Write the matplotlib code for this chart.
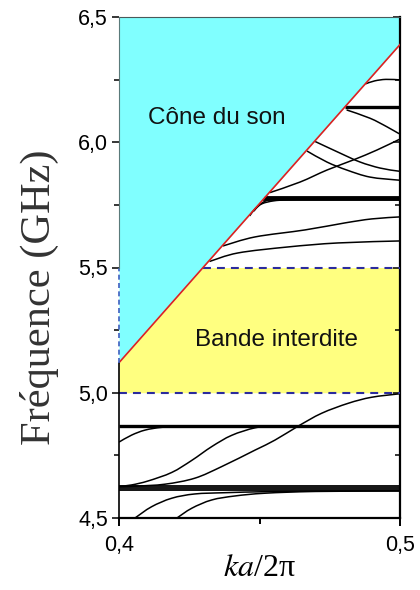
import numpy as np
import matplotlib
matplotlib.use('Agg')
import matplotlib.pyplot as plt
from matplotlib.path import Path
from matplotlib.patches import PathPatch
from matplotlib.ticker import MultipleLocator, FuncFormatter

plt.rcParams['mathtext.fontset'] = 'stix'

# sound line (edge of the sound cone) read at both ends of the window
cone_k = [0.4, 0.5]
cone_f = [5.12, 6.39]

# band gap limits (GHz)
gap_lo = 5.0
gap_hi = 5.5

# flat, heavy branches (GHz); they start at the sound line or at k=0.4
flat_levels = [4.613, 4.620, 4.628, 4.867, 5.770, 5.776, 5.783, 6.140]
heavy = [4.867, 5.776, 6.140]

# dispersive branches, read point by point
e1_k = [0.4, 0.4045, 0.4093, 0.4152, 0.4223, 0.430]
e1_f = [4.803, 4.831, 4.851, 4.862, 4.866, 4.867]
e2_k = [0.4, 0.4045, 0.4104, 0.4188, 0.4259, 0.4330, 0.4401, 0.4484, 0.4550]
e2_f = [4.626, 4.632, 4.648, 4.682, 4.730, 4.785, 4.830, 4.860, 4.867]
e3_k = [0.4, 0.4057, 0.4164, 0.4270, 0.4365, 0.4484, 0.4555, 0.4638, 0.4721, 0.4816, 0.4899, 0.5]
e3_f = [4.625, 4.627, 4.635, 4.659, 4.705, 4.771, 4.811, 4.867, 4.918, 4.958, 4.982, 4.996]
f1_k = [0.4057, 0.4116, 0.4188, 0.4270, 0.4377, 0.4520, 0.470, 0.5]
f1_f = [4.500, 4.545, 4.579, 4.596, 4.601, 4.605, 4.607, 4.608]
f2_k = [0.4205, 0.4259, 0.4330, 0.4413, 0.4520, 0.470, 0.5]
f2_f = [4.499, 4.539, 4.572, 4.588, 4.599, 4.606, 4.608]

d2_k = [0.4322, 0.4423, 0.4601, 0.4779, 0.5]
d2_f = [5.524, 5.558, 5.582, 5.598, 5.606]
d1_k = [0.4370, 0.4484, 0.4662, 0.4804, 0.4900, 0.5]
d1_f = [5.586, 5.622, 5.650, 5.678, 5.694, 5.702]
fa_k = [0.4465, 0.4485, 0.451, 0.455, 0.460, 0.470, 0.5]
fa_f = [5.706, 5.735, 5.755, 5.766, 5.770, 5.771, 5.771]
fb_k = [0.4480, 0.4500, 0.4525, 0.456, 0.462, 0.5]
fb_f = [5.725, 5.750, 5.767, 5.775, 5.778, 5.778]
c4_k = [0.4537, 0.4644, 0.4740, 0.4833, 0.4918, 0.4993, 0.5]
c4_f = [5.799, 5.841, 5.889, 5.929, 5.969, 6.009, 6.011]
c3_k = [0.4669, 0.4740, 0.4811, 0.4893, 0.4993, 0.5]
c3_f = [5.965, 5.921, 5.889, 5.861, 5.849, 5.849]
c2_k = [0.4698, 0.4786, 0.4858, 0.4929, 0.4993, 0.5]
c2_f = [6.003, 5.957, 5.921, 5.897, 5.885, 5.885]
c1_k = [0.4810, 0.4893, 0.4953, 0.4994, 0.5]
c1_f = [6.129, 6.096, 6.062, 6.036, 6.035]
c0_k = [0.4877, 0.491, 0.495, 0.5]
c0_f = [6.233, 6.245, 6.251, 6.249]

branches = [(e1_k, e1_f), (e2_k, e2_f), (e3_k, e3_f), (f1_k, f1_f), (f2_k, f2_f),
            (d2_k, d2_f), (d1_k, d1_f), (fa_k, fa_f), (fb_k, fb_f),
            (c4_k, c4_f), (c3_k, c3_f), (c2_k, c2_f), (c1_k, c1_f), (c0_k, c0_f)]

kmin, kmax = 0.4, 0.5
fmin, fmax = 4.5, 6.5


def smooth_path(xs, ys):
    # Catmull-Rom through the read points, drawn as cubic Bezier segments
    p = np.column_stack([xs, ys]).astype(float)
    q = np.vstack([p[0], p, p[-1]])
    verts = [p[0]]
    codes = [Path.MOVETO]
    for i in range(1, len(q) - 2):
        c1 = q[i] + (q[i + 1] - q[i - 1]) / 6
        c2 = q[i + 1] - (q[i + 2] - q[i]) / 6
        verts += [c1, c2, q[i + 1]]
        codes += [Path.CURVE4] * 3
    return Path(verts, codes)


fig = plt.figure(figsize=(4.2, 5.9), dpi=100)
ax = fig.add_axes([119 / 420, 72 / 590, 281 / 420, 501 / 590])

# sound cone and gap
kk = np.linspace(kmin, kmax, 200)
line = np.interp(kk, cone_k, cone_f)
ax.fill_between(kk, line, fmax, color='#80ffff', lw=0, zorder=0)
ax.fill_between(kk, gap_lo, np.minimum(line, gap_hi), where=line > gap_lo,
                color='#ffff80', lw=0, zorder=0)

# branches
for lev in flat_levels:
    k0 = max(kmin, np.interp(lev, cone_f, cone_k))
    lw = 2.4 if lev in heavy else 1.3
    ax.plot([k0, kmax], [lev, lev], color='black', lw=lw, zorder=2,
            solid_capstyle='butt')
for bk, bf in branches:
    ax.add_patch(PathPatch(smooth_path(bk, bf), fc='none', ec='black', lw=1.1, zorder=2))

ax.plot(cone_k, cone_f, color='#e02020', lw=1.2, zorder=4)

dash = (0, (3.8, 2.9))
k_hi = np.interp(gap_hi, cone_f, cone_k)
ax.plot([k_hi, kmax], [gap_hi, gap_hi], color='#2b2b9e', lw=1.5, ls=dash, zorder=3)
ax.plot([kmin, kmax], [gap_lo, gap_lo], color='#2b2b9e', lw=1.5, ls=dash, zorder=3)

# left frame: black below the cone, dashed blue along the cone, grey above the gap
ax.spines['left'].set_visible(False)
ax.plot([kmin, kmin], [fmin, cone_f[0]], color='black', lw=1.2, clip_on=False, zorder=5)
ax.plot([kmin, kmin], [cone_f[0], gap_hi], color='#3a5fc0', lw=1.2, ls=(0, (3, 2)),
        clip_on=False, zorder=5)
ax.plot([kmin, kmin], [gap_hi, fmax], color='#5a7a7a', lw=0.8, clip_on=False, zorder=5)
ax.spines['top'].set_color('#4a5a5a')
ax.spines['top'].set_linewidth(0.8)
ax.spines['right'].set_linewidth(1.6)
ax.spines['bottom'].set_linewidth(1.6)

ax.text(0.4348, 6.073, 'Cône du son', fontsize=17.5, family='Liberation Sans',
        ha='center', va='baseline', color='#111111')
ax.text(0.4561, 5.187, 'Bande interdite', fontsize=17.5, family='Liberation Sans',
        ha='center', va='baseline', color='#111111')

ax.set_xlim(kmin, kmax)
ax.set_ylim(fmin, fmax)
ax.xaxis.set_major_locator(MultipleLocator(0.1))
ax.xaxis.set_minor_locator(MultipleLocator(0.05))
ax.yaxis.set_major_locator(MultipleLocator(0.5))
ax.yaxis.set_minor_locator(MultipleLocator(0.25))
comma = FuncFormatter(lambda v, p: ('%.1f' % v).replace('.', ','))
ax.xaxis.set_major_formatter(comma)
ax.yaxis.set_major_formatter(comma)
ax.tick_params(axis='y', which='both', direction='out', right=True, labelsize=15.5,
               width=1.1, pad=3)
ax.tick_params(axis='y', which='major', length=5)
ax.tick_params(axis='y', which='minor', length=3.5)
ax.tick_params(axis='x', which='both', direction='out', labelsize=15.5, width=1.4, pad=6)
ax.tick_params(axis='x', which='major', length=6)
ax.tick_params(axis='x', which='minor', length=4)
for t in ax.get_xticklabels() + ax.get_yticklabels():
    t.set_family('Liberation Sans')
for t in ax.yaxis.get_ticklines(minor=False)[1::2] + ax.yaxis.get_ticklines(minor=True)[1::2]:
    t.set_marker(matplotlib.lines.TICKLEFT)

ax.set_xlabel('$ka$/2π', fontsize=23, family='Liberation Serif')
ax.xaxis.set_label_coords(0.5, -0.072)
ax.set_ylabel('Fréquence (GHz)', fontsize=30.5, family='Liberation Serif', color='#333333')
ax.yaxis.set_label_coords(-0.215, 0.44)

fig.savefig('out.png', dpi=100)
